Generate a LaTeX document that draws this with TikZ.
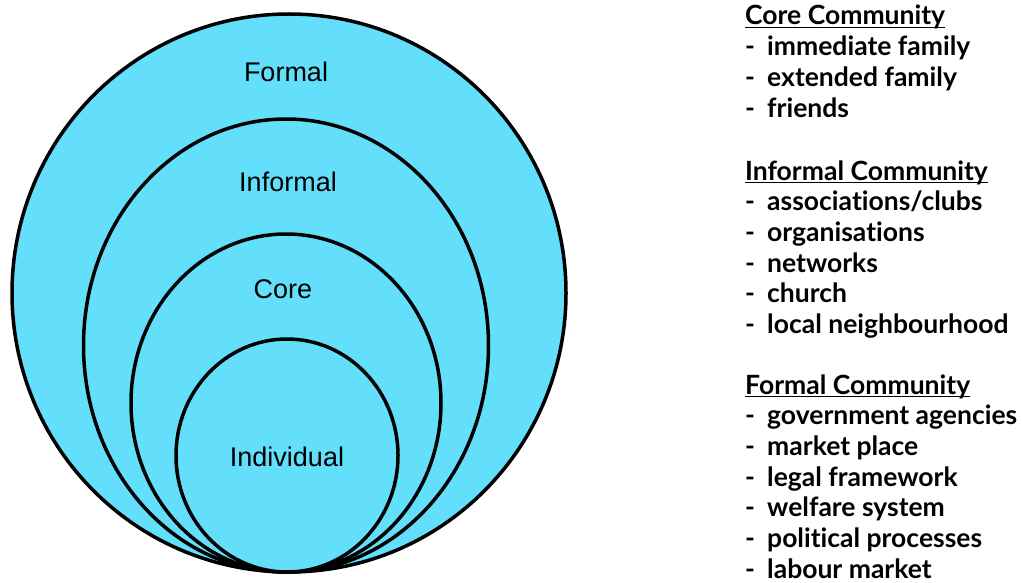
\documentclass[tikz,border=0pt]{standalone}
\usepackage{fontspec}
\setmainfont{Liberation Sans}
\newfontfamily\listfont{Lato}[Ligatures={NoCommon}]
\definecolor{ringblue}{RGB}{99,223,251}
\tikzset{
  ring/.style={draw=black, line width=3.5pt, fill=ringblue},
  ringlabel/.style={font=\fontsize{27}{31}\selectfont},
  listline/.style={anchor=base west, inner sep=0pt,
    font=\listfont\bfseries\fontsize{26.5}{30}\selectfont},
  headrule/.style={line width=1.8pt}
}
\newcommand{\dashitem}[1]{\makebox[22pt][l]{-}#1}
\begin{document}
\begin{tikzpicture}[x=1pt,y=-1pt]
    \useasboundingbox (0,0) rectangle (1023,583);
    % nested rings, all touching at the bottom
    \draw[ring] (289,293) ellipse [x radius=277, y radius=279];
    \draw[ring] (286,345.5) ellipse [x radius=202.5, y radius=226.5];
    \draw[ring] (286,403) ellipse [x radius=155, y radius=169];
    \draw[ring] (287,455.5) ellipse [x radius=111, y radius=116.5];
    \node[ringlabel] (formal) at (286,72) {Formal};
    \node[ringlabel] (informal) at (288,182) {Informal};
    \node[ringlabel] (core) at (283,289) {Core};
    \node[ringlabel] (individual) at (287,457) {Individual};
    % list on the right
    \node[listline] (corehead) at (745,25) {Core Community};
    \foreach \t [count=\i] in {immediate family, extended family, friends}
      \node[listline] (coreitem\i) at (745,25+30.7*\i) {\dashitem{\t}};
    \node[listline] (infhead) at (745,180) {Informal Community};
    \foreach \t [count=\i] in {associations/clubs, organisations, networks,
        church, local neighbourhood}
      \node[listline] (infitem\i) at (745,180+30.7*\i) {\dashitem{\t}};
    \node[listline] (formhead) at (745,394) {Formal Community};
    \foreach \t [count=\i] in {government agencies, market place,
        legal framework, welfare system, political processes, labour market}
      \node[listline] (formitem\i) at (745,394+30.7*\i) {\dashitem{\t}};
    % underlines of the three headings
    \foreach \h in {corehead,infhead,formhead}
      \draw[headrule] ([yshift=-2.5pt]\h.base west) -- ([yshift=-2.5pt]\h.base east);
\end{tikzpicture}
\end{document}
